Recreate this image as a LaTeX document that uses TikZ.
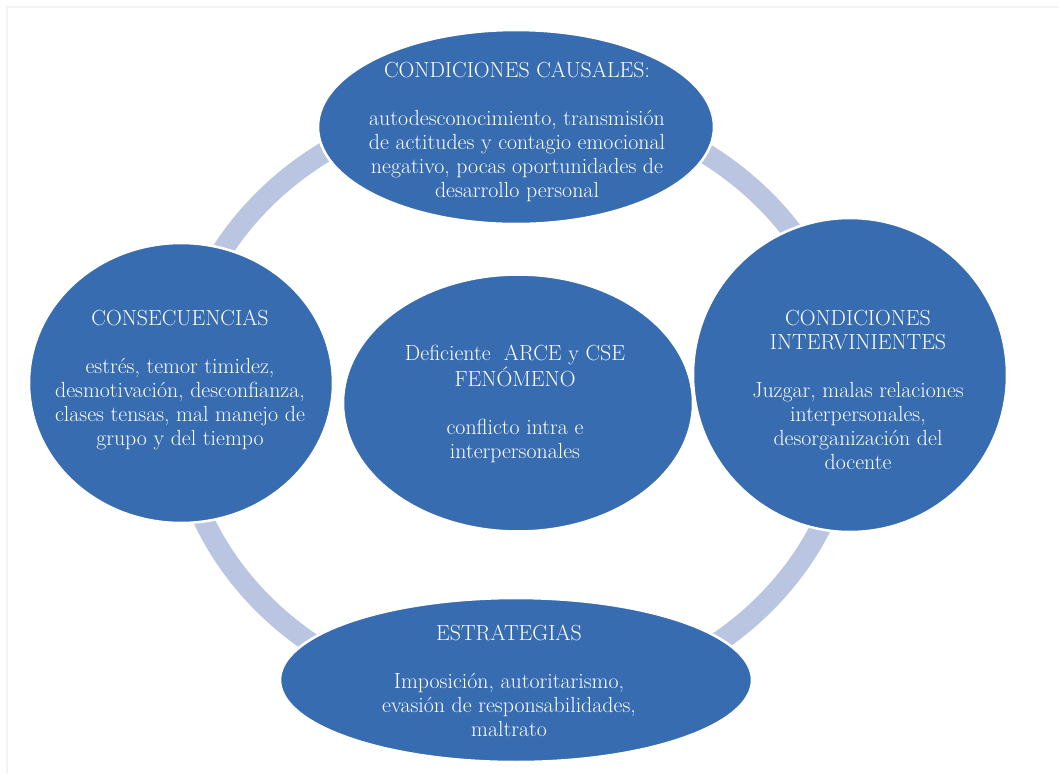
\documentclass[tikz,border=0pt]{standalone}
\usetikzlibrary{shapes.geometric}
\definecolor{blobblue}{HTML}{386CB1}
\definecolor{ringblue}{HTML}{BAC5E1}
\definecolor{framegray}{HTML}{F3F3F3}
\begin{document}
\begin{tikzpicture}[x=0.75pt,y=-0.75pt,
  blob/.style={ellipse,fill=blobblue,draw=white,line width=1.9pt,inner sep=0pt},
  txt/.style={text=white,align=center,font=\fontsize{16.4}{18}\selectfont}]
\useasboundingbox (0,0) rectangle (1059,776);
% faint frame
\draw[framegray,line width=0.8pt] (7,773) -- (7,7) -- (1059,7);
% the cycle ring behind the shapes
\draw[ringblue,line width=15.5pt] (514,402) ellipse [x radius=337,y radius=302];
% shapes
\node[blob,minimum width=396*0.75pt,minimum height=194*0.75pt] (causal) at (516,127) {};
\node[blob,minimum width=304*0.75pt,minimum height=280*0.75pt] (conse) at (181,383) {};
\node[blob,minimum width=314*0.75pt,minimum height=314*0.75pt] (interv) at (850,375) {};
\node[blob,minimum width=472*0.75pt,minimum height=164*0.75pt] (estra) at (516,680) {};
\node[blob,minimum width=350*0.75pt,minimum height=257*0.75pt] (fenom) at (518,403) {};
% texts
\node[txt] (causaltxt) at (517,132) {CONDICIONES CAUSALES:\\[18pt]
  autodesconocimiento, transmisión\\ de actitudes y contagio emocional\\
  negativo, pocas oportunidades de\\ desarrollo personal};
\node[txt] (consetxt) at (180,380) {CONSECUENCIAS\\[18pt]
  estrés, temor timidez,\\ desmotivación, desconfianza,\\
  clases tensas, mal manejo de\\ grupo y del tiempo};
\node[txt] (fenomtxt) at (515,404) {Deficiente~ ARCE y CSE\\ FENÓMENO\\[18pt]
  conflicto intra e\\ interpersonales};
\node[txt] (intervtxt) at (858,390) {CONDICIONES\\ INTERVINIENTES\\[18pt]
  Juzgar, malas relaciones\\ interpersonales,\\ desorganización del\\ docente};
\node[txt] (estratxt) at (509,681) {ESTRATEGIAS\\[18pt]
  Imposición, autoritarismo,\\ evasión de responsabilidades,\\ maltrato};
\end{tikzpicture}
\end{document}
